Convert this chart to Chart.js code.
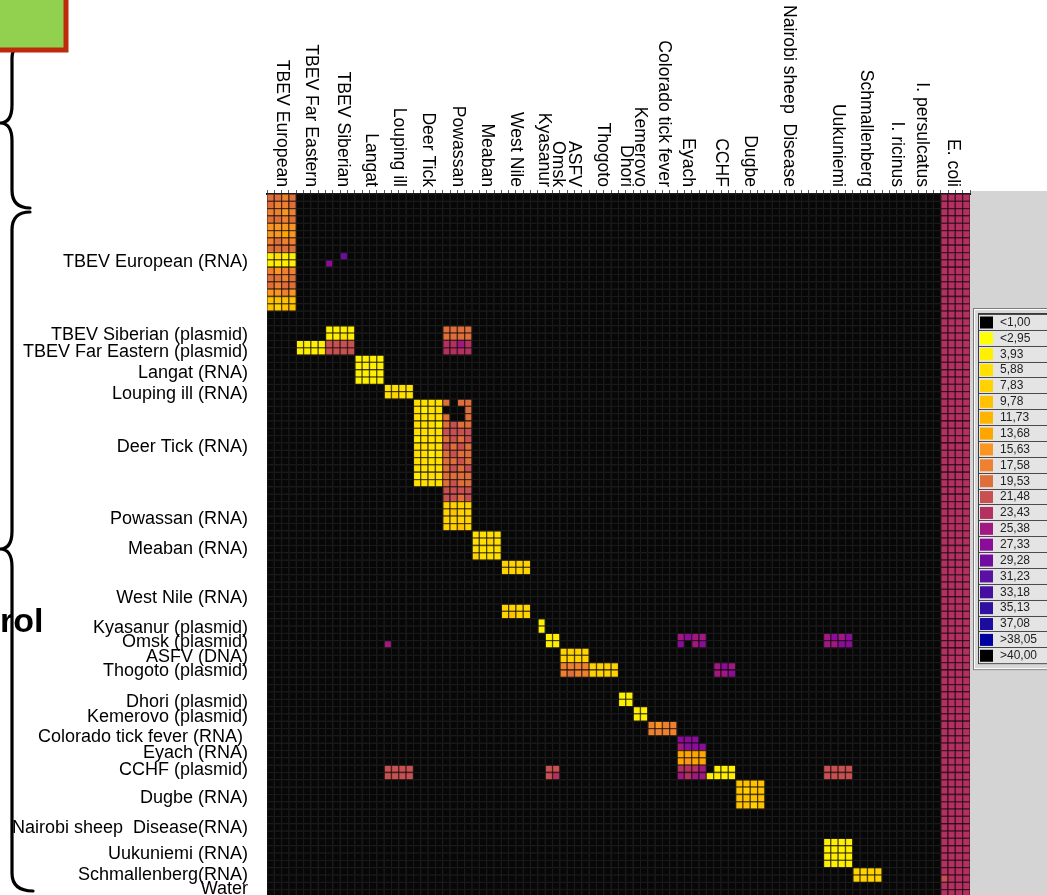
<!DOCTYPE html>
<html>
<head>
<meta charset="utf-8">
<title>Tick-borne pathogen panel – Ct heat map</title>
<script src="https://cdn.jsdelivr.net/npm/chart.js@4.4.1/dist/chart.umd.min.js"></script>
<style>
  html, body { margin: 0; padding: 0; background: #ffffff; overflow: hidden; }
  #wrap { position: relative; width: 1047px; height: 900px; }
</style>
</head>
<body>
<div id="wrap"><canvas id="plate" width="1047" height="900"></canvas></div>
<script>
// ---- Ct legend bins (code char = base-36 index into these arrays) ----
const legendLabels = ['<1,00', '<2,95', '3,93', '5,88', '7,83', '9,78', '11,73', '13,68',
  '15,63', '17,58', '19,53', '21,48', '23,43', '25,38', '27,33', '29,28', '31,23', '33,18',
  '35,13', '37,08', '>38,05', '>40,00'];
const legendColors = ['#000000', '#FFFF00', '#FFEF00', '#FFE000', '#FFD200', '#FFC200',
  '#FFB400', '#FFA500', '#F99520', '#EE8030', '#DE6E3A', '#C85050', '#B33060', '#A01880',
  '#8A0C98', '#700CA0', '#5A10A0', '#4510A0', '#3010A0', '#1C0CA0', '#0000A0', '#000000'];

// ---- assays (columns, 4 wells each on the 96-column chip) ----
const assays = ['TBEV European', 'TBEV Far Eastern', 'TBEV Siberian', 'Langat', 'Louping ill',
  'Deer Tick', 'Powassan', 'Meaban', 'West Nile', 'Kyasanur', 'Omsk', 'ASFV', 'Thogoto',
  'Dhori', 'Kemerovo', 'Colorado tick fever', 'Eyach', 'CCHF', 'Dugbe',
  'Nairobi sheep  Disease', 'Uukuniemi', 'Schmallenberg', 'I. ricinus', 'I. persulcatus', 'E. coli'];
const assayPos = [2, 6, 10.4, 14.2, 18, 22, 26, 30, 34, 37.8, 39.7, 41.9, 45.8, 49, 50.9,
  54.2, 57.5, 62, 66, 71.3, 78, 81.8, 86, 89.4, 93.7];

// ---- samples (rows) ----
const samples = ['TBEV European (RNA)', 'TBEV Siberian (plasmid)', 'TBEV Far Eastern (plasmid)',
  'Langat (RNA)', 'Louping ill (RNA)', 'Deer Tick (RNA)', 'Powassan (RNA)', 'Meaban (RNA)',
  'West Nile (RNA)', 'Kyasanur (plasmid)', 'Omsk (plasmid)', 'ASFV (DNA)', 'Thogoto (plasmid)',
  'Dhori (plasmid)', 'Kemerovo (plasmid)', 'Colorado tick fever (RNA) ', 'Eyach (RNA)',
  'CCHF (plasmid)', 'Dugbe (RNA)', 'Nairobi sheep  Disease(RNA)', 'Uukuniemi (RNA)',
  'Schmallenberg(RNA)', 'Water'];
const samplePos = [9.27, 19.24, 21.54, 24.44, 27.34, 34.54, 44.34, 48.44, 55.14, 59.3, 61.2,
  63.2, 65.14, 69.4, 71.47, 74.2, 76.34, 78.7, 82.44, 86.65, 90.2, 93.05, 94.87];

const plateRows = 96;
const plateCols = 96;

// ---- amplified wells: [row, first column, codes]  ('.' = no amplification) ----
const wellRuns = [
  // TBEV European (RNA)
  [0, 0, 'aa9a'], [1, 0, 'a99a'], [2, 0, '9989'], [3, 0, 'aa9a'],
  [4, 0, '8888'], [5, 0, '8878'], [6, 0, '9a99'], [7, 0, 'aaaa'],
  [8, 0, '2322'], [9, 0, '2222'], [10, 0, '9899'], [11, 0, 'aa9a'],
  [12, 0, 'a9aa'], [13, 0, '8898'], [14, 0, '5555'], [15, 0, '5455'],
  [8, 10, 'f'], [9, 8, 'e'],
  // TBEV Siberian / Far Eastern (plasmid)
  [18, 8, '2222'], [19, 8, '2232'], [18, 24, 'aaaa'], [19, 24, 'aaaa'],
  [20, 4, '2222bbbb'], [21, 4, '2222bbbb'], [20, 24, 'ccdc'], [21, 24, 'cccc'],
  // Langat
  [22, 12, '2222'], [23, 12, '2222'], [24, 12, '2222'], [25, 12, '2222'],
  // Louping ill
  [26, 16, '3333'], [27, 16, '3433'],
  // Deer Tick + Powassan cross-reaction
  [28, 20, '3333a.aa'], [29, 20, '3233...a'], [30, 20, '3333a..a'], [31, 20, '3332abaa'],
  [32, 20, '3333bbbb'], [33, 20, '2333abab'], [34, 20, '3333baba'], [35, 20, '3323abaa'],
  [36, 20, '3333aaba'], [37, 20, '3333abab'], [38, 20, '2333aaaa'], [39, 20, '3333abaa'],
  [40, 24, 'bbbb'], [41, 24, 'bbab'],
  // Powassan
  [42, 24, '4444'], [43, 24, '4544'], [44, 24, '4444'], [45, 24, '4454'],
  // Meaban
  [46, 28, '3333'], [47, 28, '3343'], [48, 28, '3333'], [49, 28, '4333'],
  // West Nile
  [50, 32, '4444'], [51, 32, '4444'], [56, 32, '4444'], [57, 32, '4544'],
  // Kyasanur, Omsk
  [58, 37, '2'], [59, 37, '2'],
  [60, 38, '22'], [61, 38, '22'],
  [60, 56, 'dedd'], [61, 56, 'e.de'], [60, 76, 'dede'], [61, 76, 'ddee'], [61, 16, 'd'],
  // ASFV, Thogoto
  [62, 40, '4444'], [63, 40, '4444'],
  [64, 40, '99994444'], [65, 40, '9a994444'],
  [64, 61, 'ded'], [65, 61, 'dde'],
  // Dhori, Kemerovo, Colorado tick fever
  [68, 48, '22'], [69, 48, '22'],
  [70, 50, '22'], [71, 50, '22'],
  [72, 52, '9899'], [73, 52, '9999'],
  // Eyach, CCHF
  [74, 56, 'eee.'], [75, 56, 'deee'], [76, 56, '7777'], [77, 56, '7877'],
  [78, 56, 'cccd.222'], [79, 56, 'dcdd2222'],
  [78, 16, 'bbbb'], [79, 16, 'bbbb'], [78, 38, 'bb'], [79, 38, 'bc'],
  [78, 76, 'bbbb'], [79, 76, 'bbbb'],
  // Dugbe
  [80, 64, '5555'], [81, 64, '5455'], [82, 64, '5555'], [83, 64, '5545'],
  // Uukuniemi
  [88, 76, '2222'], [89, 76, '2222'], [90, 76, '2222'], [91, 76, '2222'],
  // Schmallenberg
  [92, 80, '4444'], [93, 80, '4444']
];

// E. coli control assay (columns 92-95), one code per row
const ecoliCols = [
  'cccccccccccccccc' + 'cccccccccccccccc' + 'cccccccccccccccc' + 'cccccccccccccccc' + 'cccccccccccccccc' + 'cccccccccccccbcc',
  'cccccccccccccccc' + 'cccccccccccccccc' + 'cccccccccccccccc' + 'cccccccccccccccc' + 'cccccccccccccccc' + 'cccccccccccccccc',
  'cccccccccccccccc' + 'cccccccccccccccc' + 'cccccccccccccccc' + 'cccccccccccccccc' + 'cccccccccccccccc' + 'cccccccccccccccc',
  'cccccccccccccccc' + 'cccccccccccccccc' + 'cccccccccccccccc' + 'cccccccccccccccc' + 'cccccccccccccccc' + 'cccccccccccccccc'
];
const ecoliFirstCol = 92;

// ---- build the well list ----
const plate = [];
for (let r = 0; r < plateRows; r++) plate.push(new Array(plateCols).fill('.'));
wellRuns.forEach(([r, c0, codes]) => {
  [...codes].forEach((ch, k) => { plate[r][c0 + k] = ch; });
});
ecoliCols.forEach((col, k) => {
  [...col].forEach((ch, r) => { plate[r][ecoliFirstCol + k] = ch; });
});
const emptyWells = [], hitWells = [];
for (let r = 0; r < plateRows; r++) {
  for (let c = 0; c < plateCols; c++) {
    const code = plate[r][c];
    (code === '.' ? emptyWells : hitWells).push({ x: c + 0.5, y: r + 0.5, code });
  }
}

const FONT = '"Liberation Sans", Arial, Helvetica, sans-serif';

function wellColor(ctx) {
  const code = ctx.raw && ctx.raw.code;
  if (!code || code === '.') return '#070707';
  return legendColors[parseInt(code, 36)];
}
function wellRadius(ctx) {
  const s = ctx.chart.scales.x;
  const w = Math.abs(s.getPixelForValue(1) - s.getPixelForValue(0));
  return w / Math.SQRT2;
}

// ---- side decorations: grey panel + legend list ----
const sidePanel = {
  id: 'sidePanel',
  beforeDraw(chart) {
    const ctx = chart.ctx;
    const a = chart.chartArea;
    ctx.save();
    ctx.fillStyle = '#D4D4D4';
    ctx.fillRect(a.right, a.top - 3, chart.width - a.right, chart.height - a.top + 3);

    // legend frame
    const fx = 973, fy = 308, rowH = 15.87, top = 314;
    const fh = rowH * legendLabels.length + 12;
    ctx.fillStyle = '#D8D8D8';
    ctx.fillRect(fx, fy, chart.width - fx, fh);
    ctx.strokeStyle = '#7A7A7A'; ctx.lineWidth = 1;
    ctx.strokeRect(fx + 0.5, fy + 0.5, chart.width, fh);
    ctx.strokeStyle = '#FFFFFF';
    ctx.strokeRect(fx + 1.5, fy + 1.5, chart.width, fh - 2);
    ctx.strokeStyle = '#3A3A3A';
    ctx.strokeRect(fx + 5.5, top - 0.5, chart.width, rowH * legendLabels.length + 1);

    ctx.font = '12px ' + FONT;
    ctx.textAlign = 'left';
    ctx.textBaseline = 'middle';
    legendLabels.forEach((lab, i) => {
      const y = top + i * rowH;
      ctx.fillStyle = '#E4E4E4';
      ctx.fillRect(fx + 6, y, chart.width - fx - 6, rowH);
      ctx.strokeStyle = '#4A4A4A';
      ctx.beginPath(); ctx.moveTo(fx + 6, Math.round(y) + 0.5); ctx.lineTo(chart.width, Math.round(y) + 0.5); ctx.stroke();
      ctx.fillStyle = legendColors[i];
      ctx.fillRect(980, y + 2.5, 13, 12);
      ctx.fillStyle = '#222222';
      ctx.fillText(lab, 1000, y + 8.5);
    });
    ctx.restore();
  }
};

// ---- assay labels, braces and title box ----
const overlay = {
  id: 'overlay',
  afterDraw(chart) {
    const ctx = chart.ctx;
    const xs = chart.scales.x;
    ctx.save();
    // rotated assay names above the columns
    ctx.font = '17.6px ' + FONT;
    ctx.fillStyle = '#000000';
    assays.forEach((name, i) => {
      const x = xs.getPixelForValue(assayPos[i]);
      ctx.save();
      ctx.translate(x, xs.bottom - 7);
      ctx.rotate(Math.PI / 2);
      ctx.textAlign = 'right';
      ctx.textBaseline = 'middle';
      ctx.fillText(name, 0, 0);
      ctx.restore();
    });

    // curly braces grouping the samples
    function brace(xEndTop, top, mid, bottom, xEndBot) {
      const xm = 12, xl = 0, r = 18;
      ctx.beginPath();
      ctx.moveTo(xEndTop, top);
      ctx.quadraticCurveTo(xm, top, xm, top + r);
      ctx.lineTo(xm, mid - r);
      ctx.quadraticCurveTo(xm, mid, xl, mid);
      ctx.quadraticCurveTo(xm, mid, xm, mid + r);
      ctx.lineTo(xm, bottom - r);
      ctx.quadraticCurveTo(xm, bottom, xEndBot, bottom);
      ctx.stroke();
    }
    ctx.strokeStyle = '#000000';
    ctx.lineWidth = 3.2;
    ctx.lineCap = 'round';
    brace(40, 40, 123, 208, 30);
    brace(30, 212, 549, 891, 33);

    ctx.font = 'bold 34px ' + FONT;
    ctx.textAlign = 'left';
    ctx.textBaseline = 'alphabetic';
    ctx.fillText('rol', 0, 632);

    // title box
    ctx.fillStyle = '#92D050';
    ctx.fillRect(-10, -10, 76, 60);
    ctx.strokeStyle = '#BE2A0C';
    ctx.lineWidth = 5;
    ctx.strokeRect(-10, -10, 76, 60);
    ctx.restore();
  }
};

new Chart(document.getElementById('plate'), {
  type: 'scatter',
  data: {
    datasets: [
      { data: emptyWells, pointStyle: 'rect', pointRadius: wellRadius, pointBackgroundColor: wellColor,
        pointBorderColor: '#1B1B1B', pointBorderWidth: 1, clip: 0 },
      { data: hitWells, pointStyle: 'rect', pointRadius: wellRadius, pointBackgroundColor: wellColor,
        pointBorderColor: 'rgba(0,0,0,0.55)', pointBorderWidth: 1.3, clip: 0 }
    ]
  },
  options: {
    responsive: false,
    devicePixelRatio: 1,
    animation: false,
    events: [],
    layout: { padding: { left: 0, top: 0, right: 77, bottom: 3 } },
    plugins: { legend: { display: false }, tooltip: { enabled: false } },
    scales: {
      x: {
        type: 'linear', position: 'top', min: 0, max: plateCols,
        ticks: { display: false, stepSize: 1 },
        grid: { drawOnChartArea: false, drawTicks: true, tickLength: 4, color: '#5A5A5A', lineWidth: 1 },
        border: { display: true, color: '#1A1A1A', width: 2 },
        afterFit(s) { s.height = 194; s.paddingLeft = 0; s.paddingRight = 0; }
      },
      y: {
        type: 'linear', position: 'left', reverse: true, min: 0, max: plateRows,
        afterBuildTicks(s) { s.ticks = samplePos.map(v => ({ value: v })); },
        ticks: {
          autoSkip: false, padding: 19, color: '#000000',
          font: { family: FONT, size: 18 },
          callback: (v, i) => samples[i]
        },
        grid: { display: false, drawTicks: false },
        border: { display: false },
        afterFit(s) { s.width = 267; s.paddingTop = 0; s.paddingBottom = 0; }
      }
    }
  },
  plugins: [sidePanel, overlay]
});
</script>
</body>
</html>
